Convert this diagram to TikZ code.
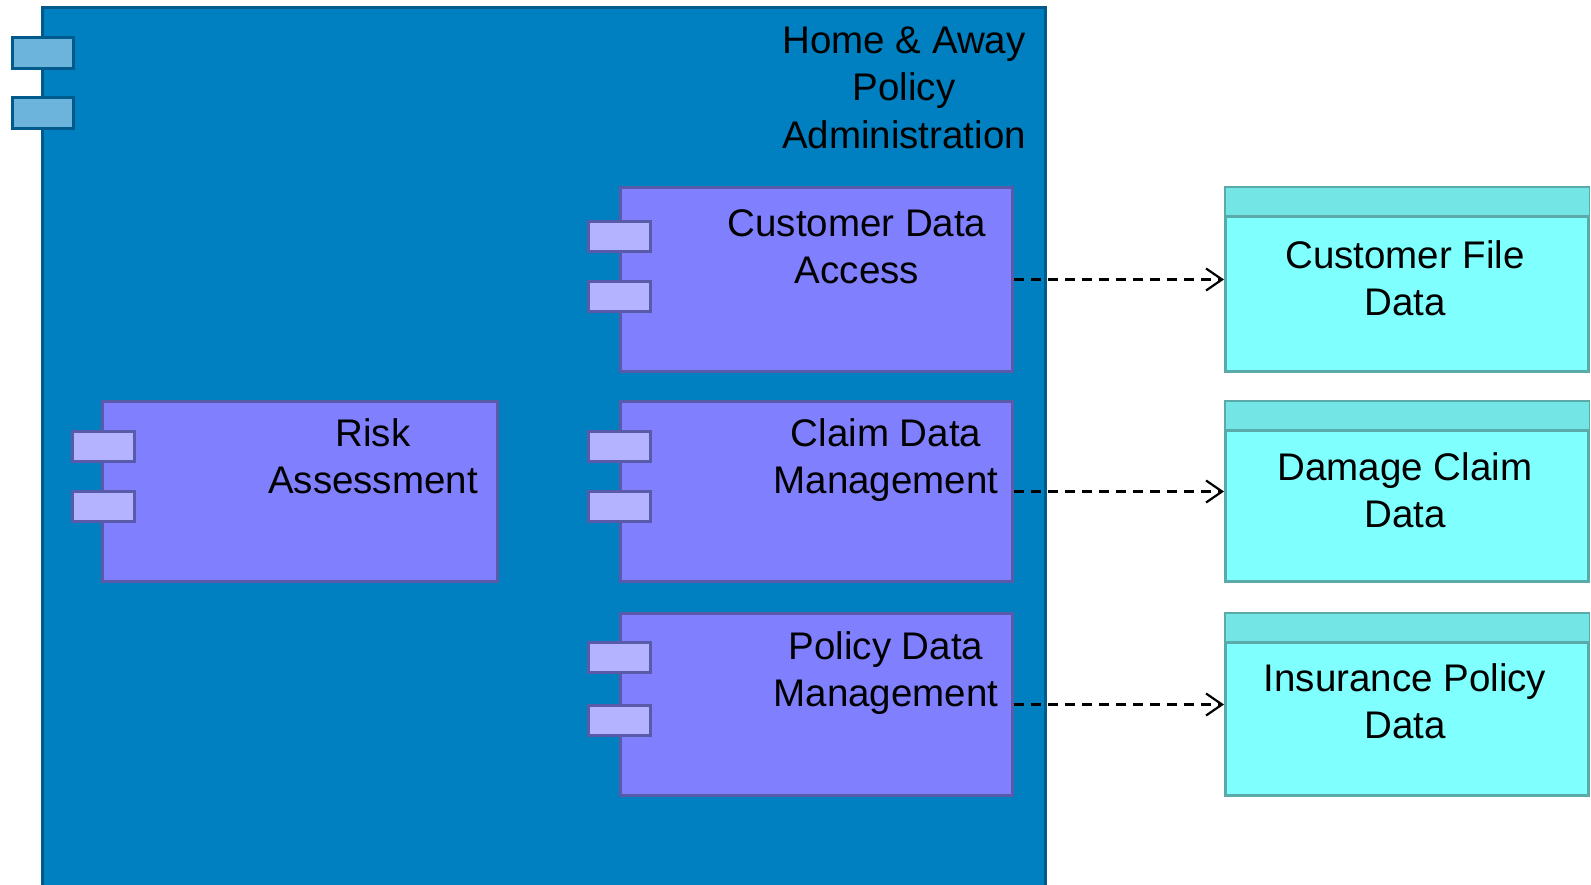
\documentclass[tikz,border=0pt]{standalone}
\usepackage{fontspec}
\setmainfont{Liberation Sans}
\usetikzlibrary{arrows.meta,calc}
\definecolor{outerfill}{HTML}{0080C0}
\definecolor{outerline}{HTML}{005A8C}
\definecolor{outerport}{HTML}{6CB4DC}
\definecolor{compfill}{HTML}{8080FF}
\definecolor{compline}{HTML}{5A5AAA}
\definecolor{compport}{HTML}{B3B3FF}
\definecolor{datafill}{HTML}{80FFFF}
\definecolor{datahead}{HTML}{73E5E5}
\definecolor{dataline}{HTML}{5AAAAA}
\tikzset{
  outerbox/.style={draw=outerline, fill=outerfill, line width=3pt, inner sep=0, minimum width=1003pt, minimum height=892pt},
  oport/.style={draw=outerline, fill=outerport, line width=3pt, inner sep=0, minimum width=61pt, minimum height=31pt},
  comp/.style={draw=compline, fill=compfill, line width=3pt, inner sep=0, minimum width=392pt, minimum height=180pt},
  cport/.style={draw=compline, fill=compport, line width=3pt, inner sep=0, minimum width=62pt, minimum height=30pt},
  databox/.style={draw=dataline, fill=datafill, line width=3pt, inner sep=0, minimum width=363pt, minimum height=180pt},
  lbl/.style={font=\fontsize{38.5}{47}\selectfont, anchor=base, inner sep=0, text=black},
  dep/.style={draw=black, line width=2.5pt, dash pattern=on 10pt off 7pt, -{Straight Barb[length=16pt,width=22pt,line width=2.2pt]}}
}
\begin{document}
\begin{tikzpicture}[x=1pt,y=-1pt]
\useasboundingbox (0,0) rectangle (1591,884);
\clip (0,0) rectangle (1591,884);
% outer component
\node[outerbox] (hap) at (544,453.5) {};
\node[oport] (happ1) at (43,53) {};
\node[oport] (happ2) at (43,113) {};
\node[lbl] (hapt1) at (904,53) {Home \& Away};
\node[lbl] (hapt2) at (904,100) {Policy};
\node[lbl] (hapt3) at (904,148) {Administration};
% Customer Data Access
\node[comp, minimum height=184pt] (cda) at (816.5,279.5) {};
\node[cport] (cdap1) at (619,236.5) {};
\node[cport] (cdap2) at (619,296.5) {};
\node[lbl] (cdat1) at (857,236) {Customer Data};
\node[lbl] (cdat2) at (857,283) {Access};
% Risk Assessment
\node[comp, minimum width=395pt] (ra) at (300,491.5) {};
\node[cport] (rap1) at (103,446.5) {};
\node[cport] (rap2) at (103,506.5) {};
\node[lbl] (rat1) at (373,446) {Risk};
\node[lbl] (rat2) at (373,493) {Assessment};
% Claim Data Management
\node[comp] (cdm) at (816.5,491.5) {};
\node[cport] (cdmp1) at (619,446.5) {};
\node[cport] (cdmp2) at (619,506.5) {};
\node[lbl] (cdmt1) at (886,446) {Claim Data};
\node[lbl] (cdmt2) at (886,493) {Management};
% Policy Data Management
\node[comp, minimum height=182pt] (pdm) at (816.5,704.5) {};
\node[cport] (pdmp1) at (619,657.5) {};
\node[cport] (pdmp2) at (619,720.5) {};
\node[lbl] (pdmt1) at (886,659) {Policy Data};
\node[lbl] (pdmt2) at (886,706) {Management};
% data objects
\node[databox, minimum height=184pt] (cfd) at (1407,279.5) {};
\node[databox] (dcd) at (1407,491.5) {};
\node[databox, minimum height=182pt] (ipd) at (1407,704.5) {};
\foreach \d in {cfd,dcd,ipd}{
  \fill[datahead] ($(\d.north west)+(1.5,1.5)$) rectangle ($(\d.north east)+(-1.5,30)$);
  \draw[dataline, line width=3pt] ($(\d.north west)+(0,30)$) -- ($(\d.north east)+(0,30)$);
}
\node[lbl] (cfdt1) at (1405,268) {Customer File};
\node[lbl] (cfdt2) at (1405,315) {Data};
\node[lbl] (dcdt1) at (1405,480) {Damage Claim};
\node[lbl] (dcdt2) at (1405,527) {Data};
\node[lbl] (ipdt1) at (1405,691) {Insurance Policy};
\node[lbl] (ipdt2) at (1405,738) {Data};
% dependencies
\draw[dep] (cda.east) -- (cfd.west);
\draw[dep] (cdm.east) -- (dcd.west);
\draw[dep] (pdm.east) -- (ipd.west);
\end{tikzpicture}
\end{document}
